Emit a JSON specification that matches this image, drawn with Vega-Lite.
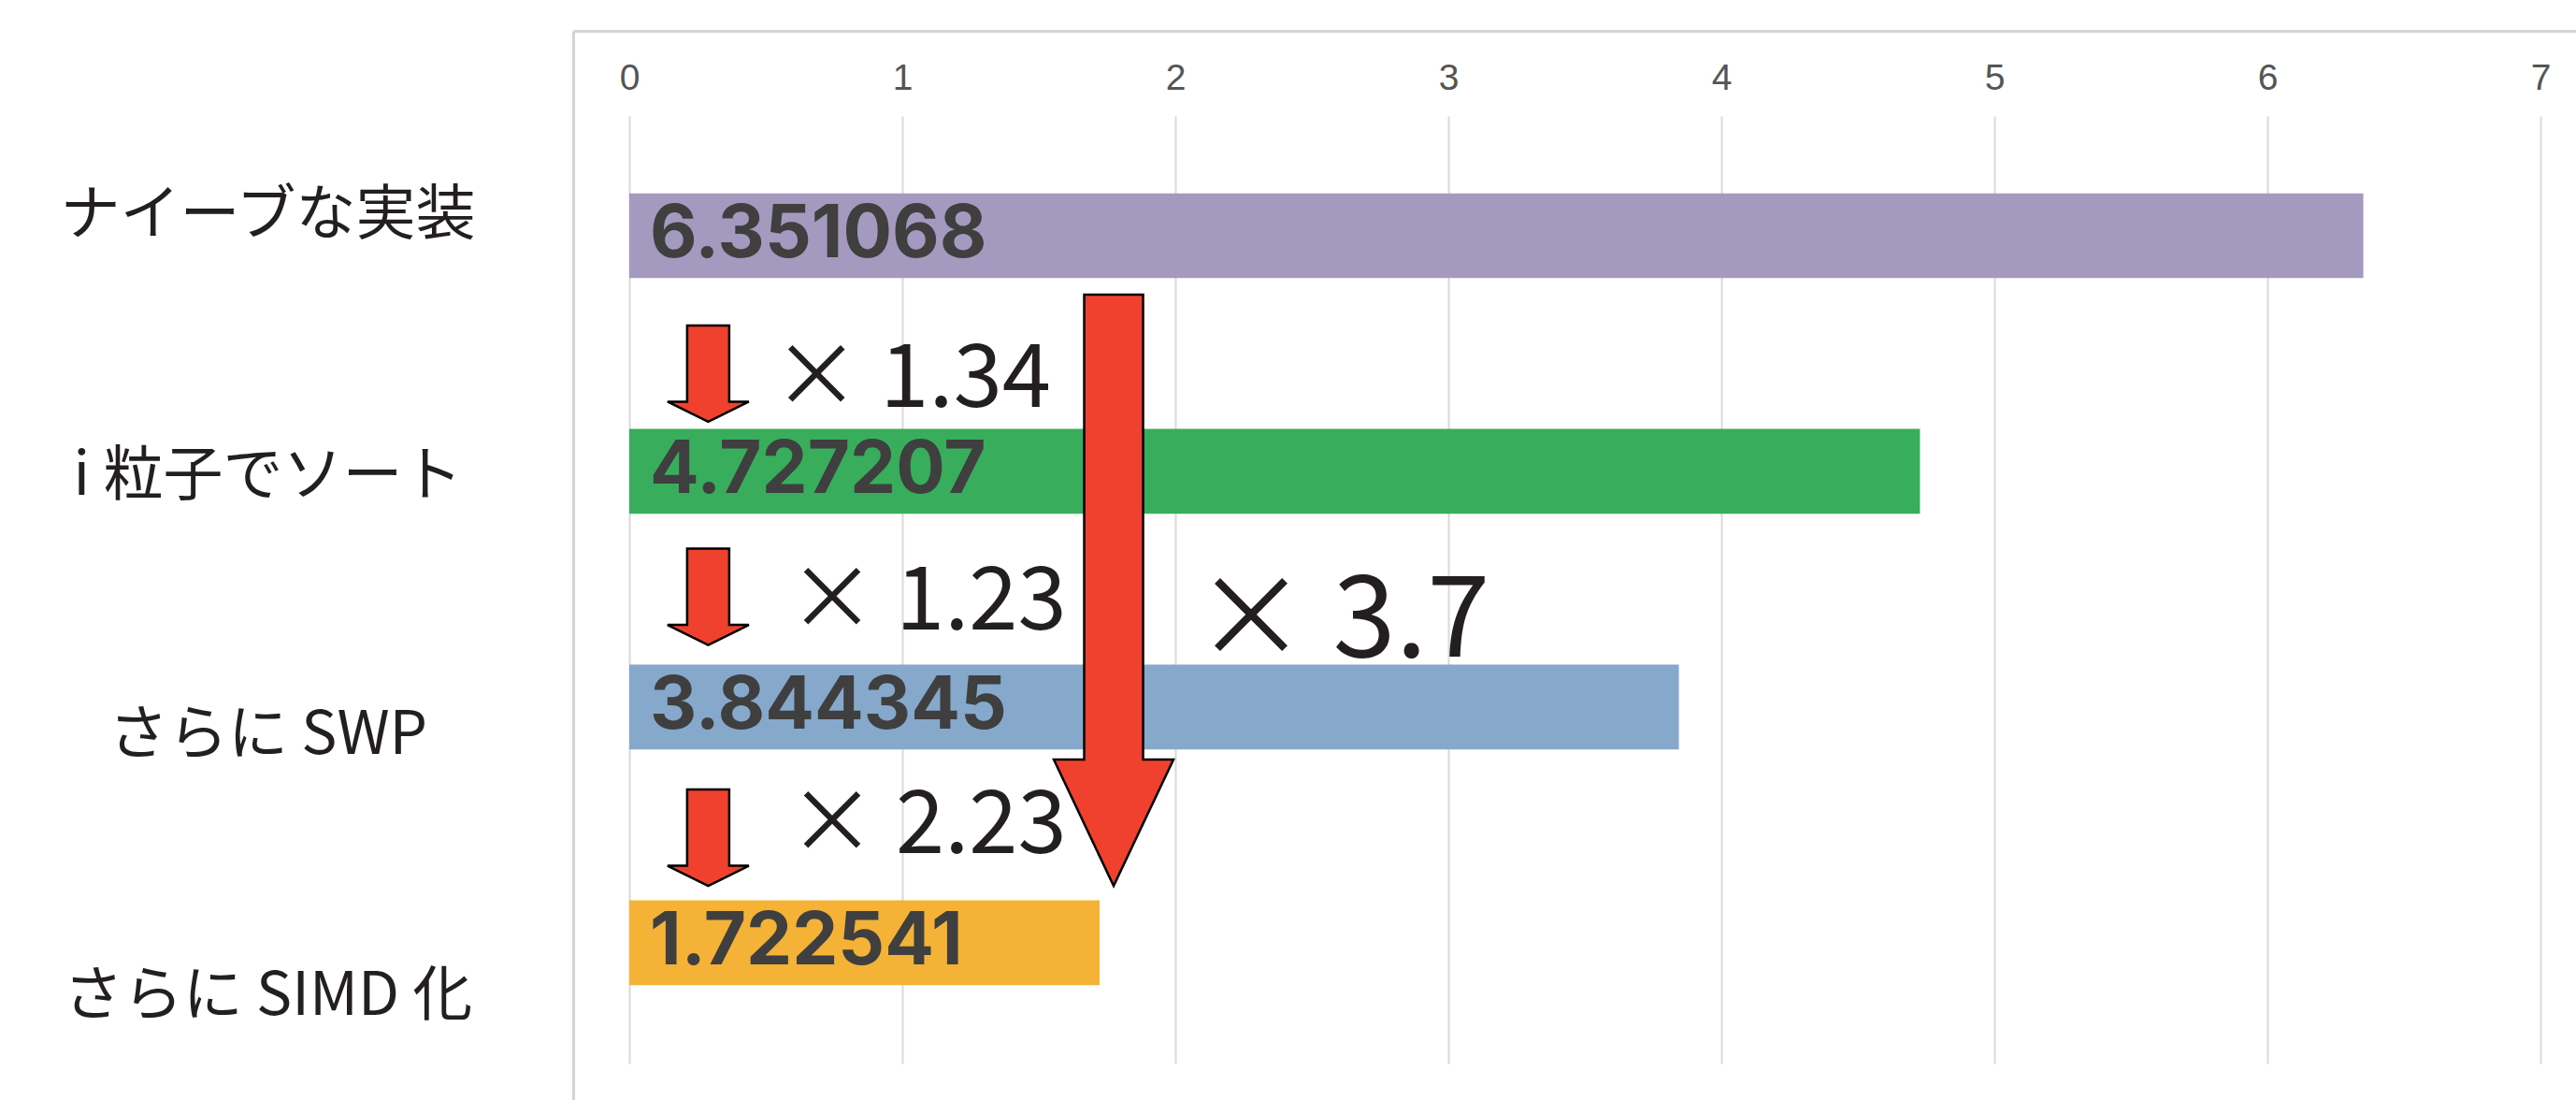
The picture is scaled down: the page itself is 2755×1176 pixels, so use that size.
{
  "$schema": "https://vega.github.io/schema/vega-lite/v6.json",
  "width": 2142,
  "height": 1143,
  "padding": {"left": 613, "top": 33, "right": 0, "bottom": 0},
  "autosize": {"type": "none"},
  "background": "white",
  "config": {"view": {"stroke": null}},
  "datasets": {
    "bars": [
      {"impl": "ナイーブな実装", "time": 6.351068},
      {"impl": "i 粒子でソート", "time": 4.727207},
      {"impl": "さらに SWP", "time": 3.844345},
      {"impl": "さらに SIMD 化", "time": 1.722541}
    ],
    "stepArrows": [
      {"step": "ナイーブな実装 → i 粒子でソート", "time": 0.289, "row": 0.585},
      {"step": "i 粒子でソート → さらに SWP", "time": 0.289, "row": 1.532},
      {"step": "さらに SWP → さらに SIMD 化", "time": 0.289, "row": 2.554}
    ],
    "totalArrow": [
      {"step": "ナイーブな実装 → さらに SIMD 化", "time": 1.774, "row": 1.504}
    ],
    "stepRatios": [
      {"label": "× 1.34", "time": 0.525, "row": 0.726},
      {"label": "× 1.23", "time": 0.582, "row": 1.671},
      {"label": "× 2.23", "time": 0.582, "row": 2.619}
    ],
    "totalRatio": [
      {"label": "× 3.7", "time": 2.07, "row": 1.786}
    ]
  },
  "encoding": {
    "x": {
      "field": "time",
      "type": "quantitative",
      "scale": {"domain": [-0.2055, 7.13], "nice": false, "zero": false},
      "axis": {
        "orient": "top",
        "values": [0, 1, 2, 3, 4, 5, 6, 7],
        "format": "d",
        "title": null,
        "domain": true,
        "domainColor": "#d4d4d4",
        "domainWidth": 3,
        "ticks": false,
        "tickSize": 0,
        "labelPadding": -62,
        "labelBaseline": "alphabetic",
        "labelFont": "Liberation Sans",
        "labelFontSize": 39,
        "labelColor": "#555555",
        "labelFlush": false,
        "grid": true,
        "gridColor": "#d9d9d9",
        "gridWidth": 2,
        "gridDash": [1013, 3000],
        "gridDashOffset": 3922
      }
    }
  },
  "resolve": {"scale": {"y": "independent"}, "axis": {"y": "independent"}},
  "layer": [
    {
      "data": {"name": "bars"},
      "encoding": {
        "y": {
          "field": "impl",
          "type": "nominal",
          "sort": null,
          "scale": {"paddingInner": 0.64, "paddingOuter": 0.5879, "align": 0.586},
          "axis": {
            "title": null,
            "orient": "left",
            "domain": true,
            "domainColor": "#d4d4d4",
            "domainWidth": 3,
            "ticks": false,
            "tickSize": 0,
            "grid": false,
            "labelFont": "Noto Sans CJK JP",
            "labelFontSize": 64,
            "labelColor": "#231f20",
            "labelAlign": "center",
            "labelBaseline": "middle",
            "labelPadding": 327,
            "labelLimit": 800,
            "labelOffset": {"expr": "datum.value == 'ナイーブな実装' ? -21 : datum.value == 'i 粒子でソート' ? 6 : datum.value == 'さらに SWP' ? 31 : 58"}
          }
        }
      },
      "layer": [
        {
          "mark": {"type": "bar"},
          "encoding": {
            "color": {
              "field": "impl",
              "type": "nominal",
              "sort": null,
              "scale": {
                "domain": ["ナイーブな実装", "i 粒子でソート", "さらに SWP", "さらに SIMD 化"],
                "range": ["#a499be", "#38ad5b", "#86a8ca", "#f4b336"]
              },
              "legend": null
            }
          }
        },
        {
          "mark": {
            "type": "text",
            "align": "left",
            "baseline": "middle",
            "dx": 22,
            "font": "Inter",
            "fontWeight": "bold",
            "fontSize": 78,
            "color": "#3f3f3f"
          },
          "encoding": {
            "x": {"datum": 0, "type": "quantitative"},
            "text": {"field": "time", "type": "quantitative", "format": ".6f"}
          }
        }
      ]
    },
    {
      "encoding": {
        "y": {
          "field": "row",
          "type": "quantitative",
          "scale": {"domain": [-0.86905, 3.66667], "reverse": true, "nice": false, "zero": false},
          "axis": null
        }
      },
      "layer": [
        {
          "data": {"name": "stepArrows"},
          "mark": {
            "type": "point",
            "shape": "M-22.5,-51.5L22.5,-51.5L22.5,30L43.5,30L0,51.5L-43.5,30L-22.5,30Z",
            "size": 4,
            "filled": true,
            "fill": "#ef412d",
            "stroke": "#000000",
            "strokeWidth": 2.5,
            "strokeJoin": "miter",
            "opacity": 1
          }
        },
        {
          "data": {"name": "totalArrow"},
          "mark": {
            "type": "point",
            "shape": "M-31.5,-316L31.5,-316L31.5,181L64,181L0,316L-64,181L-31.5,181Z",
            "size": 4,
            "filled": true,
            "fill": "#ef412d",
            "stroke": "#000000",
            "strokeWidth": 2.5,
            "strokeJoin": "miter",
            "opacity": 1
          }
        },
        {
          "data": {"name": "stepRatios"},
          "mark": {
            "type": "text",
            "align": "left",
            "baseline": "alphabetic",
            "font": "Noto Sans CJK JP",
            "fontSize": 94,
            "color": "#231f20"
          },
          "encoding": {"text": {"field": "label", "type": "nominal"}}
        },
        {
          "data": {"name": "totalRatio"},
          "mark": {
            "type": "text",
            "align": "left",
            "baseline": "alphabetic",
            "font": "Noto Sans CJK JP",
            "fontSize": 121,
            "color": "#231f20"
          },
          "encoding": {"text": {"field": "label", "type": "nominal"}}
        }
      ]
    }
  ]
}
